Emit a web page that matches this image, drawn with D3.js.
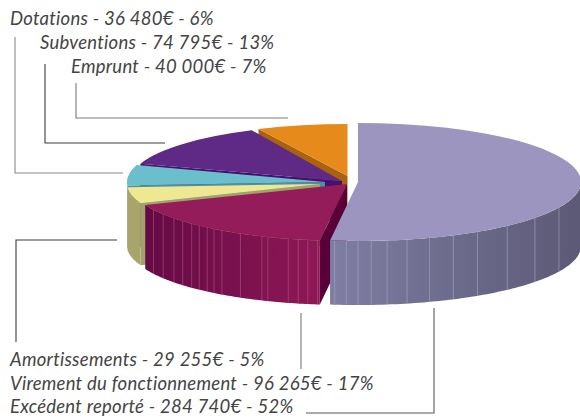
<!DOCTYPE html>
<html><head><meta charset="utf-8">
<style>html,body{margin:0;padding:0;background:#fff}svg{display:block}</style>
<script src="https://cdn.jsdelivr.net/npm/d3@7"></script></head>
<body><svg id="c" width="580" height="419"></svg>
<script>
const categories=["Excédent reporté","Virement du fonctionnement","Amortissements","Dotations","Subventions","Emprunt"];
const amounts=["284 740","96 265","29 255","36 480","74 795","40 000"];
const percents=[52,17,5,6,13,7];
const topColors=["#9c95c0","#951c5b","#efe893","#6bbfcc","#5f2a86","#e68a1c"];
const cutColors=["#7c7a9e","#5a0038","#a3a06a","#4f8ea3","#45106e","#a9620e"];
const wallLeft=["#7f7da2","#640a45","#a9a46a","#7fc0cc","#45106e","#a9620e"];
const wallRight=["#5b5975","#8e1856","#a9a46a","#7fc0cc","#45106e","#a9620e"];
const ribsBig=[186,183,180,176.6,172.5,167.3,161.3,154.7,147.6,138,127.5,115.7];
const ribsMaroon=[243.1,237.9,232.9,229.2,225.7,222.9,220.1,217.8,215.2,209.4,203.1,201.4,195.7,193,190.4,187.8];

// Each exploded slice: own centre and projected radii
const geom=[
 {cx:358,cy:182,rx:223,ry:59,d:64},
 {cx:347,cy:184,rx:217,ry:57,d:64},
 {cx:320,cy:184,rx:193,ry:52,d:62},
 {cx:325,cy:182,rx:198,ry:55,d:62},
 {cx:342,cy:181,rx:212,ry:56,d:40},
 {cx:347.5,cy:176,rx:209,ry:52,d:30}
];
const svg=d3.select("#c");
const defs=svg.append("defs");
const pie=d3.pie().sort(null).startAngle(0).endAngle(2*Math.PI);
const arcs=pie(percents);
const line=d3.line();
const pt=(g,a,dz=0)=>[g.cx+g.rx*Math.sin(a),g.cy-g.ry*Math.cos(a)+dz];
const rad=d=>d*Math.PI/180;

// back-to-front order
const order=[5,4,3,2,1,0];
order.forEach(i=>{
  const g=geom[i],a=arcs[i];
  const grp=svg.append("g");
  grp.append("path").attr("fill",cutColors[i])
    .attr("d",line([pt(g,a.startAngle),[g.cx,g.cy],[g.cx,g.cy+g.d],pt(g,a.startAngle,g.d)])+"Z");
  const s=Math.max(a.startAngle,Math.PI/2),e=Math.min(a.endAngle,3*Math.PI/2);
  if(e>s){
    const n=80,as=d3.range(n+1).map(k=>s+(e-s)*k/n);
    const id="w"+i;
    const lg=defs.append("linearGradient").attr("id",id).attr("gradientUnits","userSpaceOnUse")
      .attr("x1",pt(g,e)[0]).attr("x2",pt(g,s)[0]).attr("y1",0).attr("y2",0);
    lg.append("stop").attr("offset",0).attr("stop-color",wallLeft[i]);
    lg.append("stop").attr("offset",1).attr("stop-color",wallRight[i]);
    grp.append("path").attr("fill",`url(#${id})`)
      .attr("d",line(as.map(t=>pt(g,t)).concat(as.slice().reverse().map(t=>pt(g,t,g.d))))+"Z");
    const ribs=i===0?ribsBig:i===1?ribsMaroon:[];
    grp.selectAll("line").data(ribs).join("line")
      .attr("x1",d=>pt(g,rad(d))[0]).attr("x2",d=>pt(g,rad(d))[0])
      .attr("y1",d=>pt(g,rad(d))[1]).attr("y2",d=>pt(g,rad(d),g.d)[1])
      .attr("stroke",i===0?"#a9a7c2":"#b5527f").attr("stroke-width",0.8).attr("stroke-opacity",0.75);
  }
  grp.append("path")
    .attr("transform",`translate(${g.cx},${g.cy}) scale(1,${g.ry/g.rx})`)
    .attr("d",d3.arc().innerRadius(0).outerRadius(g.rx)(a))
    .attr("fill",topColors[i]);
});

const leaders=[
 {pts:[[15,37],[15,173],[123,173]],c:"#8a8a8a"},
 {pts:[[45,64],[45,143],[165,143]],c:"#3c3c3c"},
 {pts:[[76,83],[76,118],[288,118]],c:"#7a7a7a"},
 {pts:[[16,342],[16,240],[117,240]],c:"#3c3c3c"},
 {pts:[[301,313],[301,369]],c:"#7a7a7a"},
 {pts:[[434,308],[434,413],[306,413]],c:"#5a5a5a"}
];
svg.selectAll("path.l").data(leaders).join("path").attr("class","l")
  .attr("d",d=>line(d.pts)).attr("fill","none").attr("stroke",d=>d.c).attr("stroke-width",1.1);

const placed=[
 {i:3,x:10,y:25},{i:4,x:40,y:49},{i:5,x:71,y:73},
 {i:2,x:10,y:366},{i:1,x:10,y:390},{i:0,x:10,y:413}
];
svg.selectAll("text").data(placed).join("text")
  .attr("x",d=>d.x).attr("y",d=>d.y)
  .attr("font-family","Lato, sans-serif").attr("font-style","italic").attr("font-size",18.5)
  .attr("letter-spacing",0.25).attr("fill","#444")
  .text(d=>`${categories[d.i]} - ${amounts[d.i]}€ - ${percents[d.i]}%`);
</script></body></html>
